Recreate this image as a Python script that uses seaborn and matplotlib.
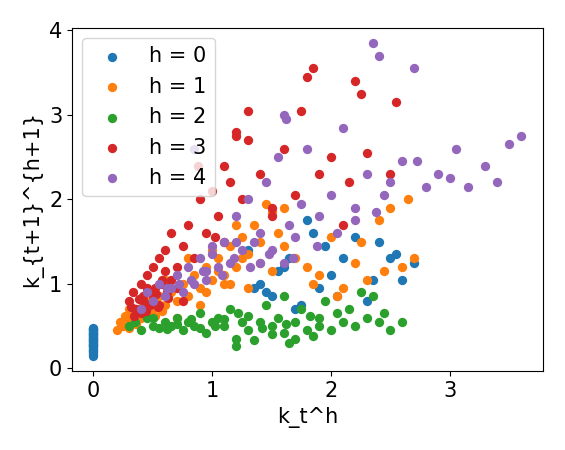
import matplotlib
matplotlib.use("Agg")
import matplotlib.pyplot as plt
import seaborn as sns

# h = 0
x0 = [0]*30 + [1.3, 1.4, 1.5, 1.6, 1.7, 1.8, 1.85, 1.9, 2.0, 2.1, 2.2, 2.3, 2.4, 2.5, 2.55, 2.6, 2.7,
                1.45, 1.55, 1.75, 1.95, 2.05, 2.35, 1.65, 1.35]
y0 = [0.15, 0.17, 0.19, 0.2, 0.22, 0.23, 0.25, 0.26, 0.27, 0.28, 0.29, 0.3, 0.31, 0.32, 0.33,
      0.34, 0.35, 0.36, 0.37, 0.38, 0.39, 0.4, 0.41, 0.42, 0.43, 0.44, 0.45, 0.46, 0.47, 0.48,
      1.4, 1.0, 0.85, 1.2, 0.7, 1.75, 1.6, 0.95, 1.1, 1.3, 1.55, 0.8, 1.5, 1.3, 1.35, 1.05, 1.25,
      0.9, 1.15, 0.75, 1.45, 0.85, 1.05, 1.3, 0.95]

# h = 1
x1 = [0.2, 0.22, 0.25, 0.28, 0.3, 0.32, 0.35, 0.38, 0.4, 0.42, 0.45, 0.48, 0.5, 0.55, 0.6,
      0.65, 0.7, 0.75, 0.8, 0.85, 0.9, 0.95, 1.0, 1.05, 1.1, 1.15, 1.2, 1.25, 1.3, 1.35, 1.4,
      1.45, 1.5, 1.55, 1.6, 1.7, 1.8, 1.9, 2.0, 2.1, 2.2, 2.3, 2.4, 2.5, 2.6, 2.7, 0.3, 0.45,
      0.6, 0.8, 1.0, 1.2, 1.4, 1.6, 1.85, 2.05, 2.25, 2.45, 2.65, 0.7, 0.9, 1.1, 1.3, 1.5,
      0.24, 0.27, 0.33, 0.36, 0.52, 0.58, 0.95, 1.05, 1.15, 1.25]
y1 = [0.45, 0.55, 0.5, 0.6, 0.48, 0.65, 0.55, 0.7, 0.6, 0.75, 0.65, 0.8, 0.7, 0.85, 0.75,
      0.9, 0.8, 1.0, 0.85, 1.1, 0.95, 1.2, 1.05, 1.3, 1.1, 1.45, 1.2, 1.55, 1.35, 1.7, 1.5,
      1.95, 1.85, 1.6, 1.45, 1.3, 1.2, 1.1, 1.55, 0.95, 1.25, 1.05, 1.75, 1.9, 1.2, 1.3, 0.7,
      0.9, 1.05, 1.3, 1.4, 1.7, 1.25, 1.9, 1.0, 0.85, 1.5, 1.15, 2.0, 0.6, 0.75, 1.0, 0.95, 1.15,
      0.5, 0.62, 0.58, 0.52, 0.62, 0.68, 0.9, 1.15, 1.0, 1.3]

# h = 2
x2 = [0.3, 0.35, 0.4, 0.45, 0.5, 0.55, 0.6, 0.65, 0.7, 0.75, 0.8, 0.85, 0.9, 0.95, 1.0, 1.05,
      1.1, 1.15, 1.2, 1.25, 1.3, 1.35, 1.4, 1.45, 1.5, 1.55, 1.6, 1.65, 1.7, 1.75, 1.8, 1.85,
      1.9, 1.95, 2.0, 2.05, 2.1, 2.2, 2.25, 2.3, 2.35, 2.4, 2.5, 2.6, 0.5, 0.7, 0.9, 1.1, 1.3,
      1.5, 1.7, 1.9, 2.15, 2.45, 1.2, 1.6, 0.62, 0.82, 1.02, 1.22, 1.42, 1.62, 1.82]
y2 = [0.5, 0.55, 0.45, 0.6, 0.5, 0.48, 0.55, 0.5, 0.6, 0.45, 0.55, 0.5, 0.65, 0.42, 0.55,
      0.6, 0.5, 0.7, 0.35, 0.55, 0.62, 0.33, 0.55, 0.75, 0.4, 0.6, 0.85, 0.3, 0.55, 0.7, 0.45,
      0.38, 0.5, 0.8, 0.45, 0.65, 0.55, 0.5, 0.9, 0.6, 0.85, 0.55, 0.45, 0.55, 0.6, 0.52, 0.48,
      0.58, 0.45, 0.5, 0.35, 0.6, 0.7, 0.65, 0.26, 0.42, 0.47, 0.58, 0.5, 0.66, 0.48, 0.52, 0.62]

# h = 3
x3 = [0.3, 0.33, 0.36, 0.4, 0.42, 0.45, 0.48, 0.5, 0.52, 0.55, 0.58, 0.6, 0.62, 0.65, 0.7,
      0.75, 0.8, 0.85, 0.9, 0.95, 1.0, 1.05, 1.1, 1.15, 1.2, 1.25, 1.3, 1.4, 1.5, 1.6, 1.7,
      1.8, 1.85, 1.9, 2.0, 2.1, 2.2, 2.25, 2.3, 2.5, 2.55, 0.35, 0.45, 0.55, 0.65, 0.75, 0.4,
      0.5, 0.6, 0.7, 1.1, 1.3, 1.5, 1.75, 2.15, 0.88, 1.02, 1.2,
      0.32, 0.38, 0.43, 0.47, 0.53, 0.57, 0.63, 0.34, 0.44, 0.54, 0.64]
y3 = [0.8, 0.9, 0.7, 1.0, 0.85, 1.1, 0.75, 1.2, 0.95, 1.3, 1.05, 1.4, 0.9, 1.6, 1.2,
      1.45, 1.7, 1.3, 2.0, 1.6, 2.1, 1.8, 2.4, 2.2, 2.8, 2.0, 3.05, 2.3, 1.9, 2.6, 2.05,
      3.45, 3.55, 2.3, 2.5, 1.7, 3.4, 3.25, 2.55, 2.3, 3.15, 0.7, 0.95, 0.75, 1.05, 0.8, 0.65,
      0.85, 1.15, 0.95, 1.5, 2.7, 1.8, 3.05, 2.2, 2.4, 1.55, 2.75,
      0.72, 0.82, 0.78, 0.92, 0.88, 1.0, 0.83, 0.62, 0.68, 0.72, 0.98]

# h = 4
x4 = [0.4, 0.45, 0.5, 0.55, 0.6, 0.65, 0.7, 0.75, 0.8, 0.85, 0.9, 0.95, 1.0, 1.05, 1.1, 1.15,
      1.2, 1.25, 1.3, 1.35, 1.4, 1.45, 1.5, 1.55, 1.6, 1.65, 1.7, 1.8, 1.9, 2.0, 2.1, 2.2,
      2.3, 2.4, 2.5, 2.6, 2.7, 2.8, 2.9, 3.0, 3.05, 3.15, 3.3, 3.4, 3.5, 3.6, 0.85, 1.62,
      2.35, 2.38, 2.72, 1.0, 1.4, 1.75, 2.05, 0.95, 1.2, 1.6, 2.2, 2.45,
      0.62, 0.72, 0.82, 0.92, 1.08, 1.18, 1.32, 1.48, 1.68, 1.88]
y4 = [0.7, 0.9, 0.8, 1.0, 0.85, 0.95, 1.1, 0.9, 1.2, 1.0, 1.3, 1.05, 1.45, 1.2, 1.5,
      1.25, 1.8, 1.4, 2.0, 1.5, 1.6, 2.2, 1.4, 2.5, 3.0, 1.7, 1.55, 2.6, 1.8, 2.05, 2.85,
      1.9, 2.3, 3.7, 2.2, 2.45, 3.55, 2.15, 2.3, 2.25, 2.6, 2.15, 2.4, 2.2, 2.65, 2.75, 2.6,
      2.95, 3.85, 1.85, 2.45, 1.35, 1.25, 1.95, 1.6, 1.15, 1.5, 1.25, 1.75, 2.05,
      0.95, 1.0, 1.05, 1.15, 1.1, 1.3, 1.2, 1.35, 1.3, 1.45]

series = [(x0, y0), (x1, y1), (x2, y2), (x3, y3), (x4, y4)]

plt.rcParams["font.size"] = 15
fig, ax = plt.subplots(figsize=(5.65, 4.5), dpi=100)
colors = sns.color_palette("tab10")
for h, (xs, ys) in enumerate(series):
    sns.scatterplot(x=xs, y=ys, ax=ax, color=colors[h], s=45, edgecolor=None,
                    linewidth=0, label=f"h = {h}")
ax.set_xlabel("k_t^h")
ax.set_ylabel("k_{t+1}^{h+1}")
ax.set_xticks([0, 1, 2, 3])
ax.set_yticks([0, 1, 2, 3, 4])
ax.legend(loc="upper left", fontsize=15)
fig.tight_layout()
fig.savefig("out.png", dpi=100)
